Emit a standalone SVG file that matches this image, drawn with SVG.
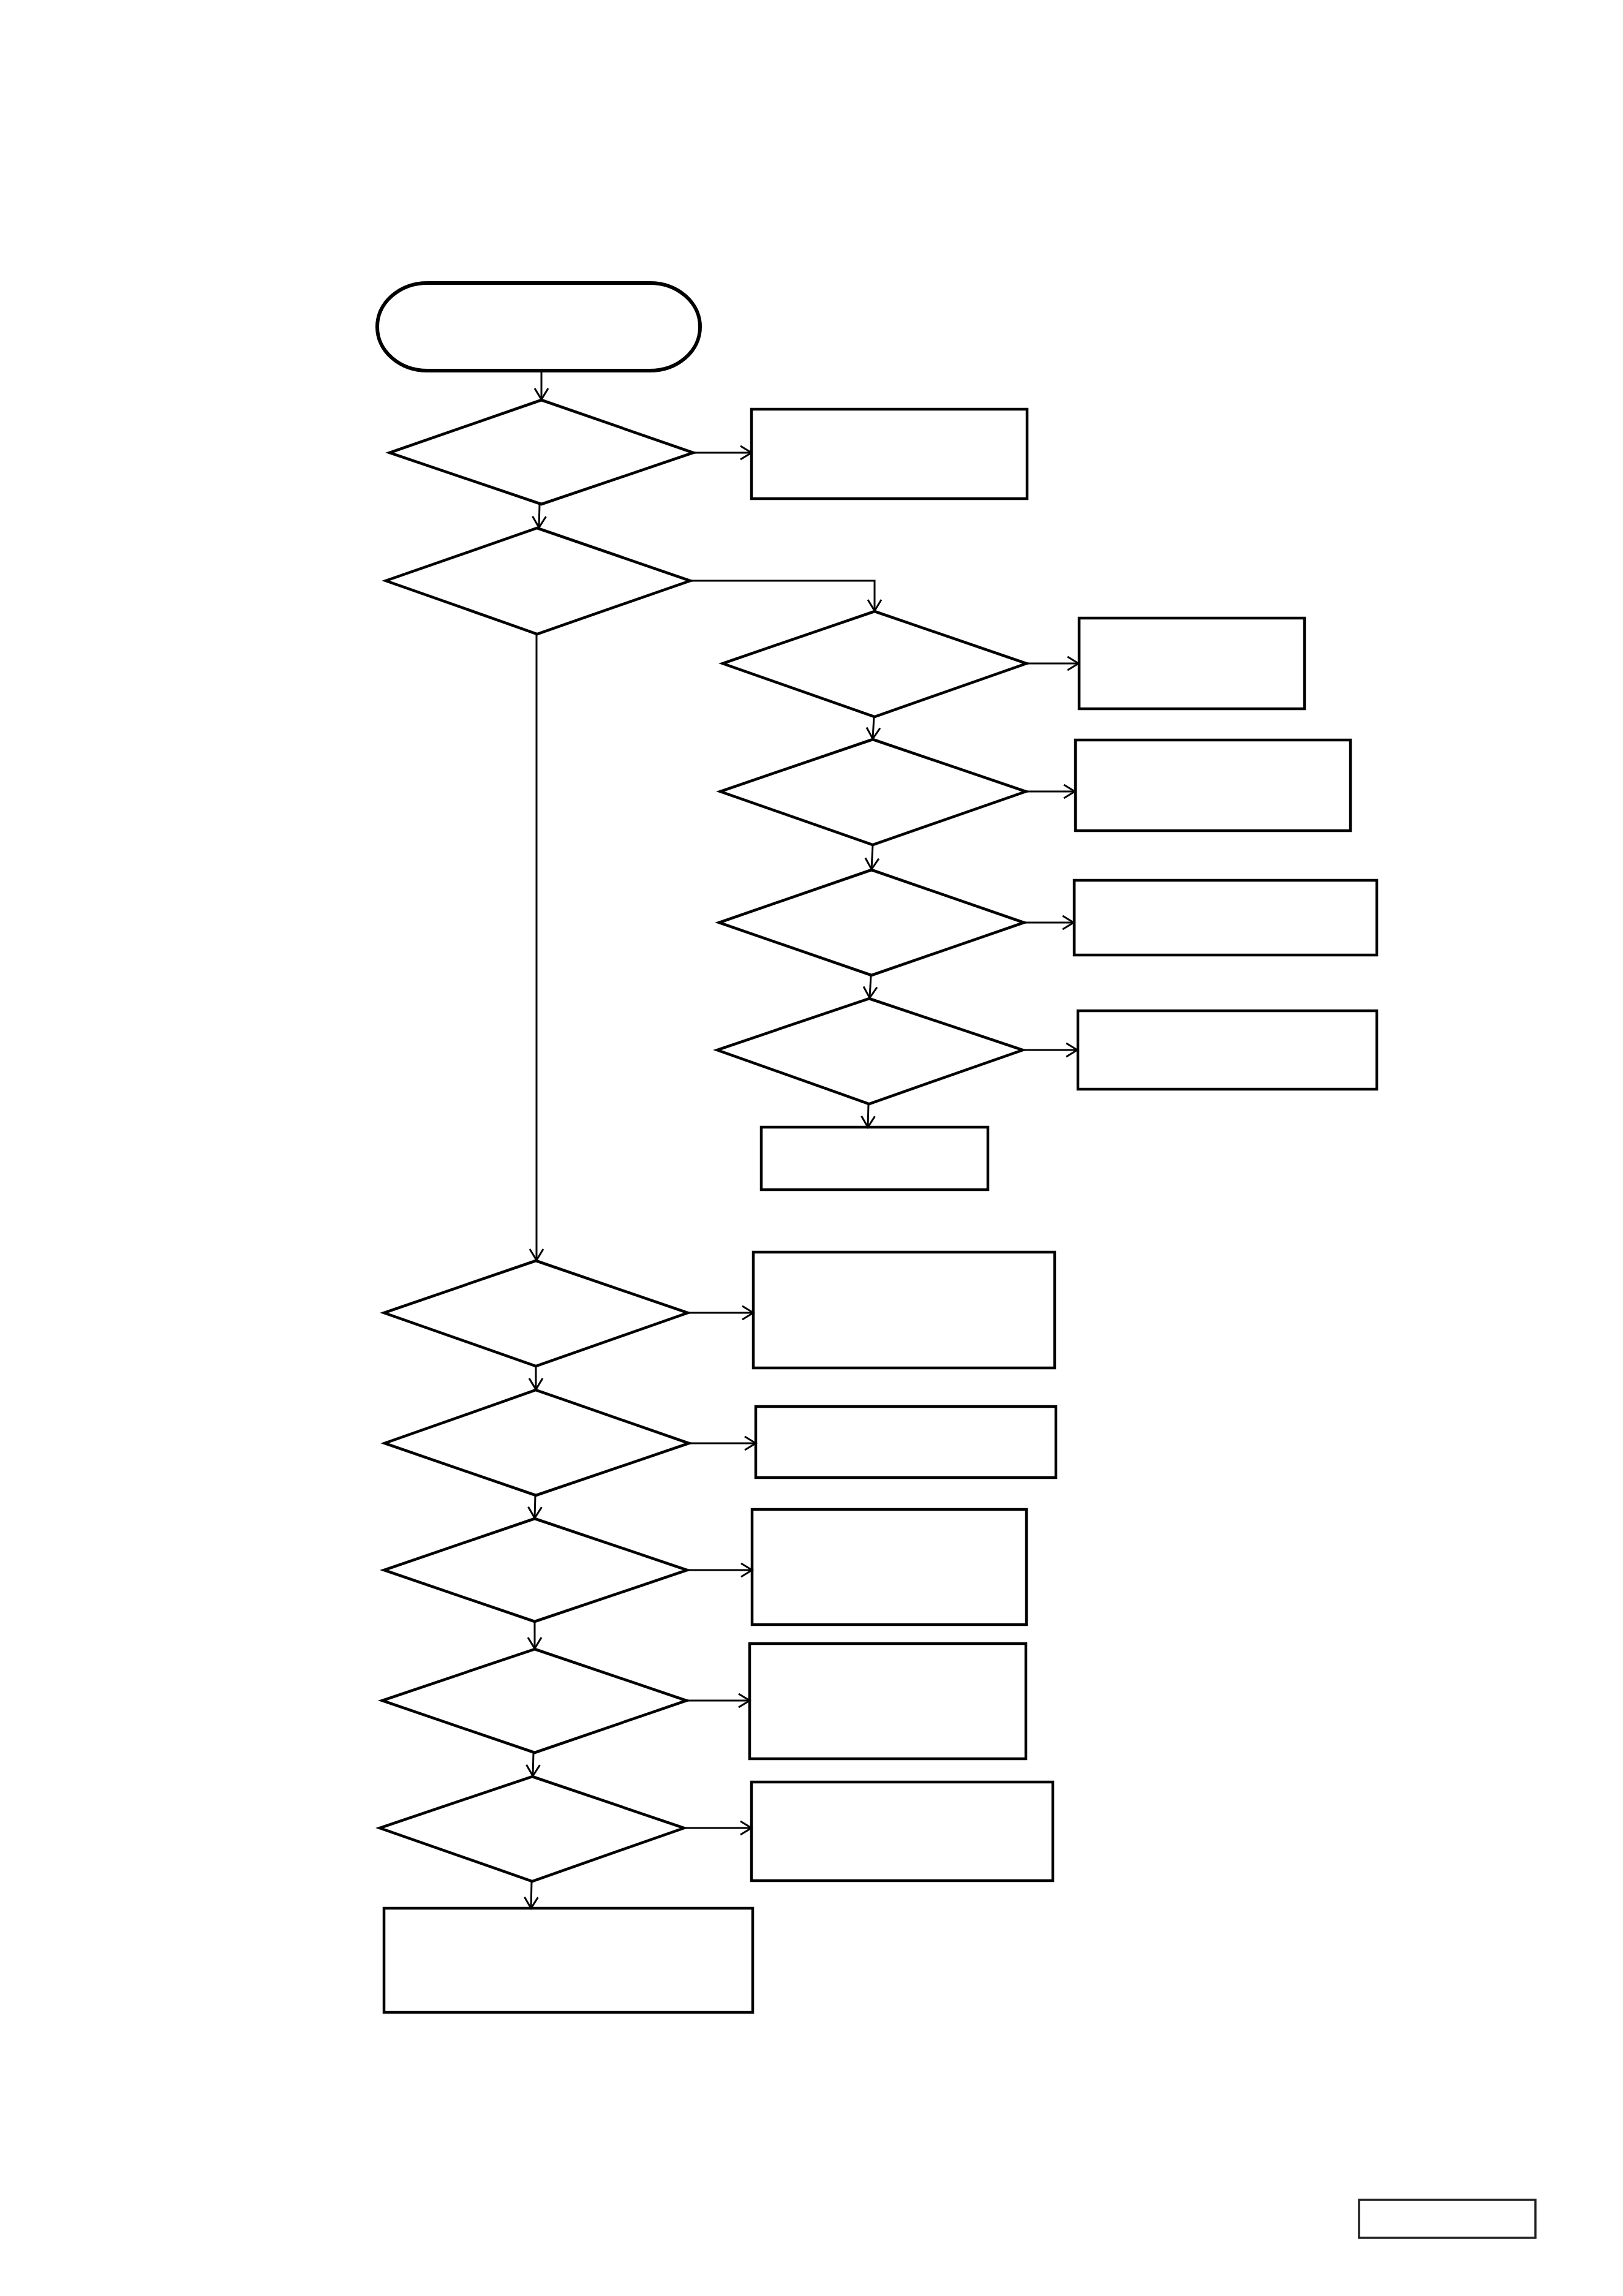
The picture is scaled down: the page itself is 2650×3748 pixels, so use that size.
<svg xmlns="http://www.w3.org/2000/svg" width="2650" height="3748" viewBox="0 0 2650 3748">
<style>
.bg{fill:#fff}
.term{fill:none;stroke:#000;stroke-width:6}
.dec{fill:none;stroke:#000;stroke-width:4.5;stroke-linejoin:miter}
.box{fill:none;stroke:#000;stroke-width:4.5}
.tag{fill:none;stroke:#231f20;stroke-width:3.5}
.conn{fill:none;stroke:#000;stroke-width:3;marker-end:url(#arr)}
</style>
<defs>
<marker id="arr" markerUnits="userSpaceOnUse" markerWidth="30" markerHeight="30" viewBox="-22 -15 26 30" refX="0" refY="0" orient="auto">
<path d="M-18,-11 L0,0 L-18,11" fill="none" stroke="#000" stroke-width="3"/>
</marker>
</defs>
<rect class="bg" x="0" y="0" width="2650" height="3748"/>
<g id="connectors">
<path class="conn" d="M884,605 L884,652"/>
<path class="conn" d="M1132,739 L1227,739"/>
<path class="conn" d="M881,823 L880,861"/>
<path class="conn" d="M1127,948 L1428,948 L1428,997"/>
<path class="conn" d="M1676,1083 L1761,1083"/>
<path class="conn" d="M1427,1169 L1425,1206"/>
<path class="conn" d="M1675,1292 L1755,1292"/>
<path class="conn" d="M1425,1379 L1423,1419"/>
<path class="conn" d="M1672,1506 L1753,1506"/>
<path class="conn" d="M1422,1592 L1420,1629"/>
<path class="conn" d="M1670,1714 L1759,1714"/>
<path class="conn" d="M1418,1802 L1417,1840"/>
<path class="conn" d="M876,1035 L876,2057"/>
<path class="conn" d="M1123,2143 L1230,2143"/>
<path class="conn" d="M875,2230 L875,2268"/>
<path class="conn" d="M1125,2356 L1234,2356"/>
<path class="conn" d="M874,2441 L873,2478"/>
<path class="conn" d="M1122,2563 L1228,2563"/>
<path class="conn" d="M873,2647 L873,2691"/>
<path class="conn" d="M1121,2776 L1224,2776"/>
<path class="conn" d="M871,2861 L870,2899"/>
<path class="conn" d="M1117,2984 L1227,2984"/>
<path class="conn" d="M868,3071 L867,3115"/>
</g>
<g id="start"><rect class="term" x="616" y="462" width="527" height="143" rx="82" ry="71"/></g>
<g id="d1"><polygon class="dec" points="884,653 1132,739 884,823 636,739"/></g>
<g id="r1"><rect class="box" x="1227" y="668" width="450" height="146"/></g>
<g id="d2"><polygon class="dec" points="877,862 1127,948 877,1035 630,948"/></g>
<g id="d3"><polygon class="dec" points="1428,998 1676,1083 1428,1170 1180,1083"/></g>
<g id="r2"><rect class="box" x="1762" y="1009" width="368" height="148"/></g>
<g id="d4"><polygon class="dec" points="1425,1207 1675,1292 1425,1379 1176,1292"/></g>
<g id="r3"><rect class="box" x="1756" y="1208" width="449" height="148"/></g>
<g id="d5"><polygon class="dec" points="1423,1420 1672,1506 1423,1592 1174,1506"/></g>
<g id="r4"><rect class="box" x="1754" y="1437" width="494" height="122"/></g>
<g id="d6"><polygon class="dec" points="1419,1630 1670,1714 1419,1802 1171,1714"/></g>
<g id="r5"><rect class="box" x="1760" y="1650" width="488" height="128"/></g>
<g id="r6"><rect class="box" x="1243" y="1840" width="370" height="102"/></g>
<g id="d7"><polygon class="dec" points="875,2058 1123,2143 875,2230 627,2143"/></g>
<g id="r7"><rect class="box" x="1230" y="2044" width="492" height="189"/></g>
<g id="d8"><polygon class="dec" points="875,2269 1125,2356 875,2441 628,2356"/></g>
<g id="r8"><rect class="box" x="1234" y="2296" width="490" height="116"/></g>
<g id="d9"><polygon class="dec" points="873,2479 1122,2563 873,2647 627,2563"/></g>
<g id="r9"><rect class="box" x="1228" y="2464" width="448" height="188"/></g>
<g id="d10"><polygon class="dec" points="873,2692 1121,2776 873,2861 624,2776"/></g>
<g id="r10"><rect class="box" x="1224" y="2683" width="451" height="188"/></g>
<g id="d11"><polygon class="dec" points="869,2900 1117,2984 869,3071 620,2984"/></g>
<g id="r11"><rect class="box" x="1227" y="2909" width="492" height="161"/></g>
<g id="r12"><rect class="box" x="627" y="3115" width="602" height="170"/></g>
<g id="tag"><rect class="tag" x="2219" y="3591" width="288" height="62"/></g>
</svg>
